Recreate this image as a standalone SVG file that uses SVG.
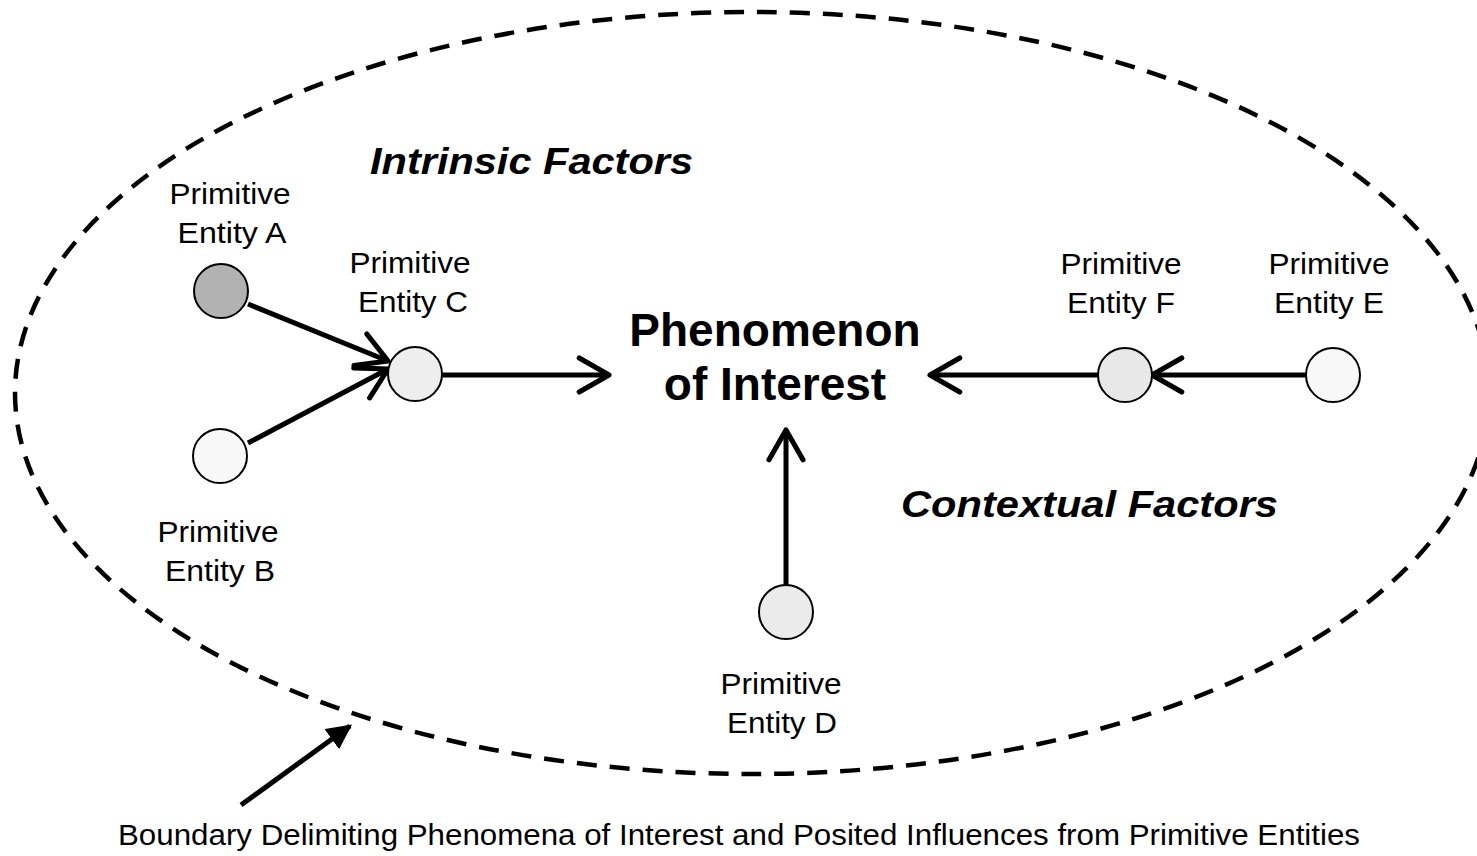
<svg xmlns="http://www.w3.org/2000/svg" width="1477" height="856" viewBox="0 0 1477 856">
  <style>
    .lbl { font-family: "Liberation Sans", Arial, sans-serif; font-size: 29px; fill: #000; text-anchor: middle; }
    .title { font-family: "Liberation Sans", Arial, sans-serif; font-size: 46px; font-weight: bold; fill: #000; text-anchor: middle; }
    .factor { font-family: "Liberation Sans", Arial, sans-serif; font-size: 37px; font-weight: bold; font-style: italic; fill: #000; }
    .caption { font-family: "Liberation Sans", Arial, sans-serif; font-size: 30px; fill: #000; text-anchor: middle; }
    .node { stroke: #000; stroke-width: 2; }
    .edge { stroke: #000; stroke-width: 5; fill: none; }
    .boundary { stroke: #000; stroke-width: 4.5; fill: none; stroke-dasharray: 20 13; }
  </style>
  <defs>
    <marker id="open" viewBox="0 0 20 20" refX="17" refY="10" markerWidth="8.5" markerHeight="8.5" markerUnits="strokeWidth" orient="auto">
      <path d="M3 2 L17 10 L3 18" fill="none" stroke="#000" stroke-width="2.4" stroke-linecap="round" stroke-linejoin="round"/>
    </marker>
    <marker id="solid" viewBox="0 0 10 10" refX="9" refY="5" markerWidth="5" markerHeight="5" markerUnits="strokeWidth" orient="auto">
      <path d="M0 0 L10 5 L0 10 Z" fill="#000"/>
    </marker>
  </defs>

  <rect width="1477" height="856" fill="#fff"/>

  <!-- system boundary -->
  <ellipse class="boundary" cx="752" cy="393" rx="737" ry="381"/>

  <!-- factor headings -->
  <text class="factor" x="370" y="174" textLength="323" lengthAdjust="spacingAndGlyphs">Intrinsic Factors</text>
  <text class="factor" x="901" y="517" textLength="377" lengthAdjust="spacingAndGlyphs">Contextual Factors</text>

  <!-- connectors -->
  <g id="connectors">
    <line class="edge" x1="248" y1="304" x2="388" y2="361" marker-end="url(#open)"/>
    <line class="edge" x1="248" y1="443" x2="388" y2="369" marker-end="url(#open)"/>
    <line class="edge" x1="442" y1="375" x2="609" y2="375" marker-end="url(#open)"/>
    <line class="edge" x1="1098" y1="375" x2="930" y2="375" marker-end="url(#open)"/>
    <line class="edge" x1="1306" y1="375" x2="1152" y2="375" marker-end="url(#open)"/>
    <line class="edge" x1="786" y1="585" x2="786" y2="430" marker-end="url(#open)"/>
    <line class="edge" x1="241" y1="805" x2="350" y2="726" marker-end="url(#solid)"/>
  </g>

  <!-- central phenomenon -->
  <g id="phenomenon">
    <text class="title" x="775" y="346">Phenomenon</text>
    <text class="title" x="775" y="400">of Interest</text>
  </g>

  <g id="entity-a">
    <circle class="node" cx="221" cy="291" r="27" fill="#b2b2b2"/>
    <text class="lbl" x="230" y="204" textLength="121" lengthAdjust="spacingAndGlyphs">Primitive</text>
    <text class="lbl" x="232" y="243" textLength="109" lengthAdjust="spacingAndGlyphs">Entity A</text>
  </g>
  <g id="entity-b">
    <circle class="node" cx="220" cy="456" r="27" fill="#f8f8f8"/>
    <text class="lbl" x="218" y="542" textLength="121" lengthAdjust="spacingAndGlyphs">Primitive</text>
    <text class="lbl" x="220" y="581" textLength="110" lengthAdjust="spacingAndGlyphs">Entity B</text>
  </g>
  <g id="entity-c">
    <circle class="node" cx="415" cy="374" r="27" fill="#eeeeee"/>
    <text class="lbl" x="410" y="273" textLength="121" lengthAdjust="spacingAndGlyphs">Primitive</text>
    <text class="lbl" x="413" y="312" textLength="110" lengthAdjust="spacingAndGlyphs">Entity C</text>
  </g>
  <g id="entity-d">
    <circle class="node" cx="786" cy="612" r="27" fill="#ebebeb"/>
    <text class="lbl" x="781" y="694" textLength="121" lengthAdjust="spacingAndGlyphs">Primitive</text>
    <text class="lbl" x="782" y="733" textLength="110" lengthAdjust="spacingAndGlyphs">Entity D</text>
  </g>
  <g id="entity-e">
    <circle class="node" cx="1333" cy="375" r="27" fill="#f8f8f8"/>
    <text class="lbl" x="1329" y="274" textLength="121" lengthAdjust="spacingAndGlyphs">Primitive</text>
    <text class="lbl" x="1329" y="313" textLength="110" lengthAdjust="spacingAndGlyphs">Entity E</text>
  </g>
  <g id="entity-f">
    <circle class="node" cx="1125" cy="375" r="27" fill="#e8e8e8"/>
    <text class="lbl" x="1121" y="274" textLength="121" lengthAdjust="spacingAndGlyphs">Primitive</text>
    <text class="lbl" x="1121" y="313" textLength="108" lengthAdjust="spacingAndGlyphs">Entity F</text>
  </g>

  <text class="caption" x="739" y="845" textLength="1242" lengthAdjust="spacingAndGlyphs">Boundary Delimiting Phenomena of Interest and Posited Influences from Primitive Entities</text>
</svg>
